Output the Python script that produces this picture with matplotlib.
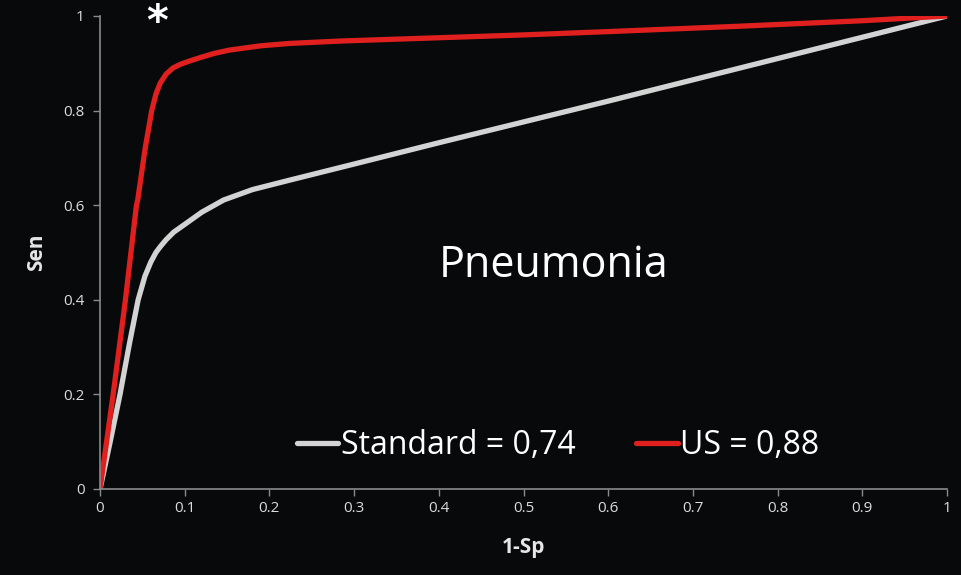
import matplotlib
matplotlib.use('Agg')
import matplotlib.pyplot as plt
from matplotlib.lines import Line2D

# ROC curves
std_x = [0, 0.012, 0.0236, 0.035, 0.045, 0.053, 0.06, 0.066, 0.071, 0.078, 0.087, 0.102, 0.12, 0.146, 0.18, 0.224, 0.3, 0.4, 0.5, 0.6, 0.7, 0.8, 0.9, 1.0]
std_y = [0, 0.10, 0.2, 0.31, 0.4, 0.45, 0.48, 0.50, 0.512, 0.527, 0.543, 0.562, 0.585, 0.611, 0.633, 0.653, 0.687, 0.732, 0.776, 0.82, 0.865, 0.91, 0.955, 1.0]
us_x = [0, 0.0155, 0.03, 0.043, 0.0445, 0.053, 0.061, 0.066, 0.071, 0.078, 0.086, 0.095, 0.106, 0.12, 0.135, 0.153, 0.19, 0.224, 0.283, 0.4, 0.5, 0.6, 0.75, 0.9, 1.0]
us_y = [0, 0.2, 0.4, 0.6, 0.611, 0.717, 0.80, 0.835, 0.858, 0.877, 0.89, 0.898, 0.905, 0.913, 0.921, 0.928, 0.937, 0.942, 0.947, 0.954, 0.96, 0.967, 0.978, 0.99, 1.0]

labels = ['Standard = 0,74', 'US = 0,88']
colors = ['#d3d3d3', '#e0201f']
xticks = [0, 0.1, 0.2, 0.3, 0.4, 0.5, 0.6, 0.7, 0.8, 0.9, 1]
yticks = [0, 0.2, 0.4, 0.6, 0.8, 1]

bg = '#07090b'
fig = plt.figure(figsize=(9.61, 5.75), dpi=100, facecolor=bg)
ax = fig.add_axes([0.1041, 0.1496, 0.8813, 0.8226])
ax.set_facecolor(bg)

ax.plot(std_x, std_y, color=colors[0], linewidth=3.8, solid_capstyle='round', solid_joinstyle='round')
ax.plot(us_x, us_y, color=colors[1], linewidth=3.8, solid_capstyle='round', solid_joinstyle='round')

ax.set_xlim(0, 1)
ax.set_ylim(0, 1)
ax.set_xticks(xticks)
ax.set_xticklabels(['%g' % v for v in xticks], family='Open Sans')
ax.set_yticks(yticks)
ax.set_yticklabels(['%g' % v for v in yticks], family='Open Sans')

for s in ['top', 'right']:
    ax.spines[s].set_visible(False)
for s in ['left', 'bottom']:
    ax.spines[s].set_color('#8a8a8a')
    ax.spines[s].set_linewidth(1.2)
ax.tick_params(colors='#8a8a8a', labelcolor='#dcdcdc', labelsize=11, length=5, width=1)
ax.tick_params(axis='x', pad=4)
ax.tick_params(axis='y', pad=6)

ax.set_xlabel('1-Sp', color='#e6e6e6', fontsize=15, fontweight='bold', family='Open Sans', labelpad=15)
ax.set_ylabel('Sen', color='#e6e6e6', fontsize=15, fontweight='bold', family='Open Sans', labelpad=12)

ax.text(0.536, 0.448, 'Pneumonia', transform=ax.transAxes, color='white',
        fontsize=31, family='Open Sans', ha='center', va='baseline')
fig.text(157 / 961, 0.997, '*', color='white', fontsize=30, fontweight='bold',
         ha='center', va='top')

handles = [Line2D([], [], color=c, linewidth=3.8, solid_capstyle='round') for c in colors]
leg = ax.legend(handles, labels, loc='center', bbox_to_anchor=(0.541, 0.092), ncol=2,
                frameon=False, handlelength=1.3, handletextpad=0.08, columnspacing=1.9,
                prop={'family': 'Open Sans', 'size': 23})
for t in leg.get_texts():
    t.set_color('white')

fig.savefig('out.png', dpi=100, facecolor=bg)
